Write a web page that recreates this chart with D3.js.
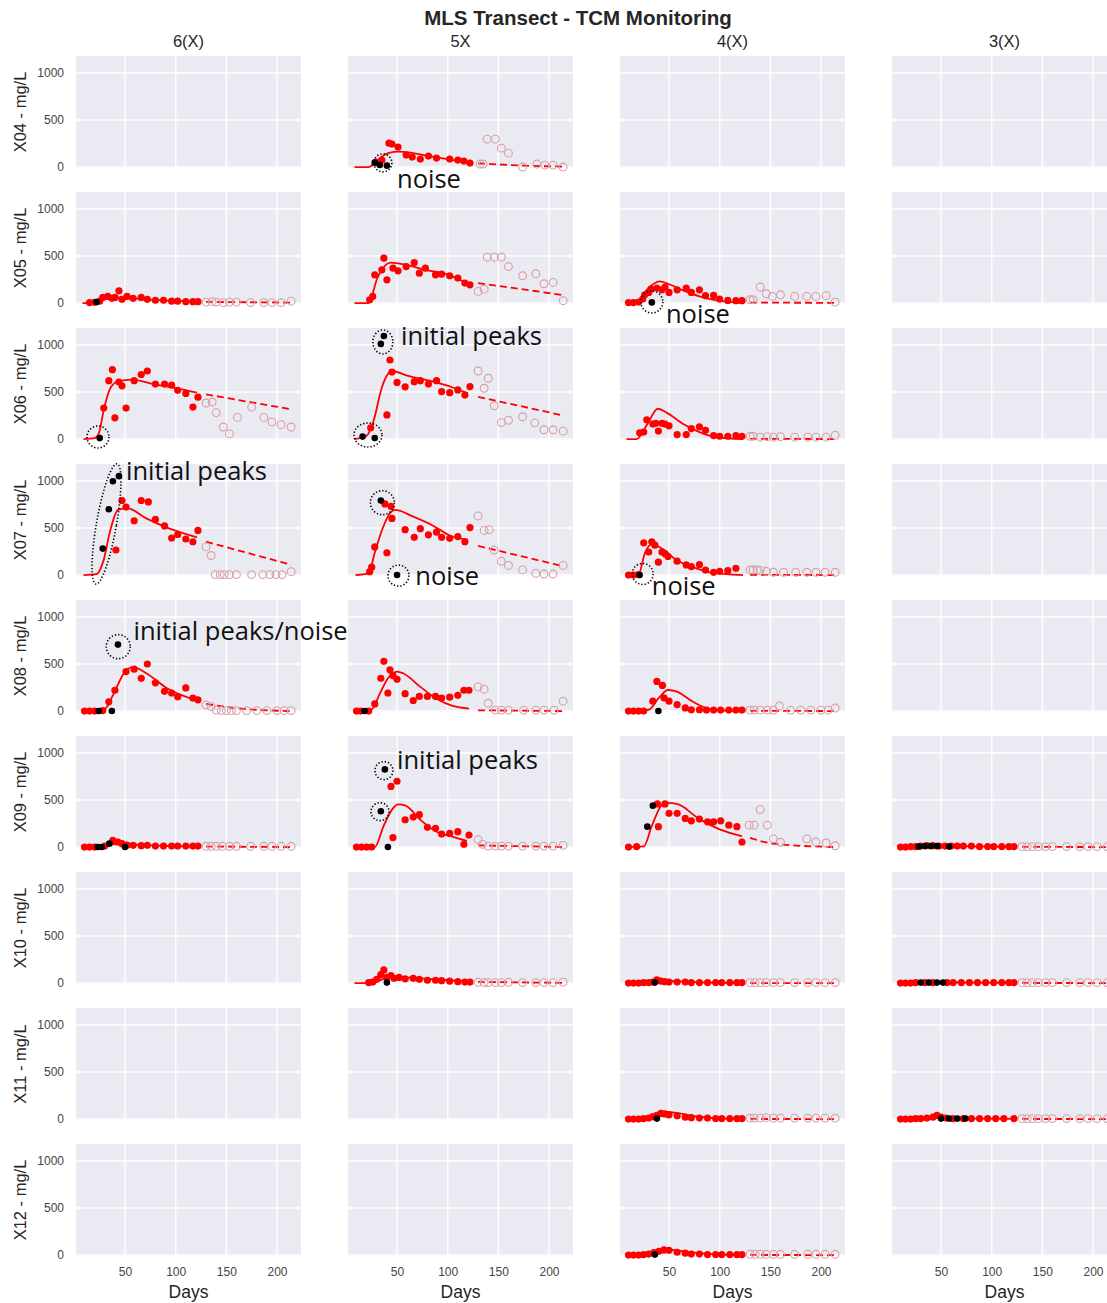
<!DOCTYPE html>
<html><head><meta charset="utf-8">
<script src="https://cdn.jsdelivr.net/npm/d3@7"></script>
<style>body{margin:0;background:#fff}svg{display:block}</style>
</head><body><svg id="c" width="1107" height="1303"></svg>
<script>
// ---------- labels ----------
const chartTitle = "MLS Transect - TCM Monitoring";
const rowNames = ["X04","X05","X06","X07","X08","X09","X10","X11","X12"];
const colNames = ["6(X)","5X","4(X)","3(X)"];
const xTicks = [50,100,150,200];
const yTicks = [0,500,1000];
const xLabel = "Days";

// ---------- data: [day, mg/L] ----------
// X04 - 5X
const X04_5X_red = [[29,53],[35,74],[42,254],[45,244],[51,212],[59,127],[65,106],[73,85],[81,117],[89,95],[102,85],[110,74],[116,64],[122,42]];
const X04_5X_black = [[28,47],[33,22],[40,15]];
const X04_5X_open = [[132,32],[135,32],[139,297],[147,297],[153,201],[160,148],[174,0],[188,32],[196,21],[204,21],[214,0]];
const X04_5X_fit = [[8,0],[22,0],[28,40],[35,110],[42,150],[52,165],[65,150],[80,120],[100,85],[122,45]];
const X04_5X_proj = [[130,40],[150,28],[175,15],[213,5]];
// X05 - 6(X)
const X05_6X_red = [[15,5],[20,8],[25,20],[28,60],[33,70],[37,50],[40,60],[44,130],[47,40],[52,70],[58,50],[66,60],[72,40],[80,30],[88,30],[96,20],[102,20],[110,15],[117,15],[122,15]];
const X05_6X_black = [[22,10]];
const X05_6X_open = [[130,10],[136,15],[140,10],[147,5],[153,10],[160,10],[174,5],[187,5],[195,5],[204,5],[214,20]];
const X05_6X_fit = [[8,0],[20,5],[28,40],[38,60],[50,55],[70,40],[95,25],[122,15]];
const X05_6X_proj = [[130,12],[213,5]];
// X05 - 5X
const X05_5X_red = [[23,35],[26,71],[28,300],[35,353],[37,477],[40,247],[46,371],[51,342],[59,388],[67,431],[72,318],[78,371],[88,300],[94,307],[102,290],[110,265],[117,212],[122,194]];
const X05_5X_black = [];
const X05_5X_open = [[130,124],[136,148],[139,487],[146,487],[153,487],[160,388],[174,290],[187,311],[195,205],[204,219],[214,25]];
const X05_5X_fit = [[8,0],[22,0],[25,71],[30,250],[36,370],[44,430],[59,406],[78,353],[98,311],[122,194]];
const X05_5X_proj = [[130,212],[212,88]];
// X05 - 4(X)
const X05_4X_red = [[10,5],[15,5],[20,10],[24,42],[26,88],[30,113],[32,148],[38,159],[43,141],[46,170],[50,113],[58,141],[67,159],[72,113],[80,141],[86,78],[94,81],[100,42],[108,28],[116,25],[122,25]];
const X05_4X_black = [[33,7]];
const X05_4X_open = [[130,35],[133,35],[140,170],[146,99],[152,71],[160,88],[174,71],[186,71],[195,71],[205,78],[214,10]];
const X05_4X_fit = [[8,0],[18,0],[28,141],[41,230],[50,200],[64,134],[80,71],[97,28],[123,0]];
const X05_4X_proj = [[130,5],[213,2]];
// X06 - 6(X)
const X06_6X_red = [[29,329],[34,620],[37.5,737],[40,226],[44,606],[47,566],[51,329],[59,620],[66,686],[72,723],[80,584],[89,584],[96,573],[102,518],[110,485],[117,340],[122,445]];
const X06_6X_black = [[25,10]];
const X06_6X_open = [[130,383],[136,394],[140,281],[147,128],[153,55],[161,230],[175,340],[187,230],[195,183],[204,153],[214,128]];
const X06_6X_fit = [[9,0],[20,10],[24,55],[29,310],[35,530],[43,613],[57,631],[78,584],[98,547],[121,493]];
const X06_6X_proj = [[130,475],[213,318]];
// X06 - 5X
const X06_5X_red = [[24,120],[43,840],[45,712],[40,256],[50,602],[58,555],[67,610],[73,620],[81,584],[89,620],[94,504],[102,493],[110,522],[117,467],[122,558]];
const X06_5X_black = [[37,1095],[34,1011],[16,26],[28,11]];
const X06_5X_open = [[130,723],[140,646],[136,540],[146,354],[153,175],[160,200],[174,237],[186,172],[195,99],[204,99],[214,84]];
const X06_5X_fit = [[8,0],[20,36],[27,200],[35,548],[45,723],[60,675],[82,620],[105,548],[120,485]];
const X06_5X_proj = [[130,449],[212,255]];
// X06 - 4(X)
const X06_4X_red = [[21,67],[25,74],[28,204],[34,159],[37,167],[39.5,85],[43,167],[46,159],[50,141],[58,48],[67,48],[72,111],[80,130],[86,93],[94,37],[100,30],[108,30],[116,37],[122,30]];
const X06_4X_black = [];
const X06_4X_open = [[130,30],[133,30],[140,20],[147,25],[153,20],[160,25],[174,20],[187,20],[195,20],[205,20],[214,40]];
const X06_4X_fit = [[8,0],[18,0],[28,148],[39,322],[48,278],[64,159],[80,74],[97,18],[123,0]];
const X06_4X_proj = [[130,3],[213,0]];
// X07 - 6(X)
const X07_6X_red = [[41,266],[47,792],[51,723],[59,577],[66,792],[73,777],[80,591],[89,522],[96,394],[102,431],[110,383],[117,354],[122,474]];
const X07_6X_black = [[28,281],[34,700],[38,996],[44,1051]];
const X07_6X_open = [[130,299],[135,208],[139,5],[144,5],[148,5],[153,5],[160,5],[175,5],[186,5],[193,5],[199,5],[205,5],[214,36]];
const X07_6X_fit = [[9,0],[22,11],[29,164],[35,456],[43,693],[52,712],[71,602],[94,493],[121,401]];
const X07_6X_proj = [[130,354],[214,110]];
// X07 - 5X
const X07_5X_red = [[38,756],[44,730],[45,602],[25,84],[23,36],[28,299],[40,237],[58,482],[67,401],[73,493],[81,427],[89,456],[94,401],[102,390],[110,409],[117,354],[122,504]];
const X07_5X_black = [[34,792],[50,0]];
const X07_5X_open = [[130,628],[136,474],[141,482],[146,266],[153,146],[160,102],[174,55],[187,18],[195,11],[204,11],[214,102]];
const X07_5X_fit = [[9,0],[22,18],[28,237],[35,474],[43,657],[48,693],[66,620],[86,522],[102,420],[120,376]];
const X07_5X_proj = [[130,310],[212,99]];
// X07 - 4(X)
const X07_4X_red = [[10,0],[15,0],[20,5],[25,342],[30,245],[33,353],[36,317],[39.5,137],[43,245],[46,227],[49,198],[58,148],[67,108],[72,90],[80,112],[86,54],[94,29],[100,40],[108,47],[116,72]];
const X07_4X_black = [[21,0]];
const X07_4X_open = [[130,54],[133,54],[137,54],[140,50],[146,40],[153,30],[163,30],[175,30],[186,30],[195,30],[204,30],[214,30]];
const X07_4X_fit = [[8,0],[20,11],[26,227],[33,328],[43,281],[58,155],[74,83],[90,29],[123,0]];
const X07_4X_proj = [[130,3],[213,0]];
// X08 - 6(X)
const X08_6X_red = [[10,0],[15,0],[20,0],[28,5],[34,98],[40,221],[51,420],[59,445],[66,348],[72,500],[80,300],[89,210],[96,192],[102,152],[110,246],[117,138],[122,119]];
const X08_6X_black = [[43,706],[24,0],[37,0]];
const X08_6X_open = [[130,65],[135,47],[140,10],[145,5],[150,5],[155,5],[160,5],[170,5],[180,5],[190,5],[200,5],[207,5],[214,5]];
const X08_6X_fit = [[9,0],[30,22],[38,167],[50,420],[58,467],[71,402],[91,246],[121,112]];
const X08_6X_proj = [[130,76],[160,30],[213,0]];
// X08 - 5X
const X08_5X_red = [[10,0],[14,0],[22,0],[28,76],[34,348],[37,528],[41,192],[43,438],[46,377],[50,337],[58,185],[66,112],[72,156],[80,156],[88,156],[94,138],[102,148],[110,167],[116,221],[121,221]];
const X08_5X_black = [[18,0]];
const X08_5X_open = [[130,257],[136,232],[140,83],[147,10],[153,10],[160,10],[175,10],[187,10],[195,10],[205,10],[214,105]];
const X08_5X_fit = [[9,0],[25,18],[33,185],[41,348],[50,420],[56,402],[73,257],[89,130],[105,54],[121,25]];
const X08_5X_proj = [[130,8],[213,0]];
// X08 - 4(X)
const X08_4X_red = [[10,0],[15,0],[20,0],[25,0],[34,105],[38,315],[43.5,272],[45,141],[50,105],[58,69],[66,33],[72,14],[80,14],[87,10],[94,10],[101,10],[109,10],[116,10],[122,10]];
const X08_4X_black = [[39.5,0]];
const X08_4X_open = [[130,10],[134,10],[140,10],[147,10],[153,10],[159,54],[170,10],[180,10],[190,10],[200,10],[207,10],[214,32]];
const X08_4X_fit = [[8,0],[30,14],[39.5,134],[49,224],[58,206],[71,116],[84,43],[100,7],[123,0]];
const X08_4X_proj = [[130,3],[213,0]];
// X09 - 6(X)
const X09_6X_red = [[10,0],[15,0],[20,0],[30,10],[38,72],[43,54],[47,36],[52,20],[58,18],[66,15],[72,18],[80,10],[88,10],[96,10],[102,10],[110,10],[117,10],[122,10]];
const X09_6X_black = [[34.5,36],[23,0],[27,0],[50,0]];
const X09_6X_open = [[130,8],[135,8],[140,8],[146,8],[153,8],[160,8],[174,8],[187,8],[195,8],[204,8],[214,8]];
const X09_6X_fit = [[9,0],[25,0],[35,25],[45,35],[60,25],[80,15],[100,10],[122,5]];
const X09_6X_proj = [[130,5],[213,0]];
// X09 - 5X
const X09_5X_red = [[10,0],[15,0],[20,0],[25,0],[44,644],[50,699],[46,101],[58,290],[66,319],[72,344],[80,210],[88,199],[94,138],[102,145],[110,163],[116,29],[121,127]];
const X09_5X_black = [[38,825],[34,380],[41,0]];
const X09_5X_open = [[130,80],[134.5,29],[140,10],[147,10],[153,10],[160,10],[174,10],[187,10],[195,10],[204,10],[214,18]];
const X09_5X_fit = [[9,0],[28,0],[36.5,217],[45,398],[51,453],[58,442],[73,290],[89,163],[105,109],[119,65]];
const X09_5X_proj = [[130,18],[213,0]];
// X09 - 4(X)
const X09_4X_red = [[10,0],[18,5],[38.5,458],[46,458],[39.5,217],[50,358],[58,358],[66,304],[72,279],[80,297],[88,268],[94,268],[101,279],[109,232],[117,217],[122,54]];
const X09_4X_black = [[34,440],[28.6,217]];
const X09_4X_open = [[129,232],[134,232],[140,398],[147,232],[153,87],[160,51],[186,87],[195,54],[205,43],[214,14]];
const X09_4X_fit = [[8,0],[25,7],[33,224],[43,448],[48,470],[58,458],[80,297],[100,188],[122,116]];
const X09_4X_proj = [[130,98],[153,36],[214,0]];
// X09 - 3(X)
const X09_3X_red = [[10,0],[15,0],[20,5],[25,5],[30,10],[36,15],[42,15],[48,10],[54,10],[60,10],[66,10],[72,10],[80,10],[88,5],[96,5],[102,5],[110,5],[117,5],[122,5]];
const X09_3X_black = [[28,5],[34,10],[40,10],[46,10],[58,5]];
const X09_3X_open = [[130,5],[135,5],[140,5],[146,5],[153,5],[160,5],[174,5],[187,5],[195,5],[204,5],[214,5]];
const X09_3X_fit = [[9,0],[25,2],[40,15],[55,12],[80,8],[122,3]];
const X09_3X_proj = [[130,2],[213,0]];
// X10 - 5X
const X10_5X_red = [[22,5],[26,10],[30,40],[34,90],[37,140],[40,60],[44,80],[47,50],[52,60],[58,45],[66,50],[72,40],[80,30],[88,30],[94,25],[102,20],[110,15],[117,10],[122,10]];
const X10_5X_black = [[40,5]];
const X10_5X_open = [[130,8],[136,5],[140,5],[147,5],[153,5],[160,8],[174,5],[187,5],[195,5],[204,5],[214,10]];
const X10_5X_fit = [[8,0],[25,2],[33,30],[40,55],[50,65],[60,60],[80,45],[100,30],[122,15]];
const X10_5X_proj = [[130,12],[213,2]];
// X10 - 4(X)
const X10_4X_red = [[10,0],[15,0],[20,0],[25,5],[30,5],[34,10],[38,35],[42,20],[46,15],[50,10],[58,10],[66,10],[72,5],[80,5],[88,5],[96,5],[102,5],[110,5],[117,5],[122,5]];
const X10_4X_black = [[36,5]];
const X10_4X_open = [[130,5],[135,5],[140,5],[146,5],[153,5],[160,5],[174,5],[187,5],[195,5],[204,5],[214,5]];
const X10_4X_fit = [[8,0],[25,2],[38,15],[48,22],[60,18],[80,8],[100,3],[122,0]];
const X10_4X_proj = [[130,0],[213,0]];
// X10 - 3(X)
const X10_3X_red = [[10,0],[15,0],[20,0],[25,5],[34,5],[42,5],[56,5],[62,5],[70,5],[78,5],[86,5],[94,5],[102,5],[110,5],[117,5],[122,5]];
const X10_3X_black = [[30,5],[38,5],[46,5],[52,5]];
const X10_3X_open = [[130,5],[135,5],[140,5],[146,5],[153,5],[160,5],[174,5],[187,5],[195,5],[204,5],[214,5]];
const X10_3X_fit = [[9,0],[30,3],[50,8],[80,4],[122,1]];
const X10_3X_proj = [[130,1],[213,0]];
// X11 - 4(X)
const X11_4X_red = [[10,0],[15,0],[20,0],[25,5],[30,10],[34,25],[38,40],[42,60],[46,55],[50,45],[58,35],[66,20],[72,15],[80,10],[88,10],[96,5],[102,5],[110,5],[117,5],[122,5]];
const X11_4X_black = [[38,5]];
const X11_4X_open = [[130,10],[134,10],[140,10],[146,15],[153,10],[160,10],[174,10],[187,10],[195,10],[204,10],[214,10]];
const X11_4X_fit = [[8,0],[25,2],[35,30],[48,75],[58,65],[75,30],[95,10],[122,2]];
const X11_4X_proj = [[130,1],[213,0]];
// X11 - 3(X)
const X11_3X_red = [[10,0],[15,0],[20,0],[25,5],[30,5],[36,10],[42,20],[46,40],[50,20],[55,10],[62,5],[72,5],[80,5],[88,5],[96,5],[104,5],[112,5],[122,5]];
const X11_3X_black = [[50,5],[58,5],[66,5],[74,5]];
const X11_3X_open = [[130,5],[135,5],[140,5],[146,5],[153,5],[160,5],[174,5],[187,5],[195,5],[204,5],[214,5]];
const X11_3X_fit = [[9,0],[30,3],[48,12],[70,8],[100,4],[122,2]];
const X11_3X_proj = [[130,1],[213,0]];
// X12 - 4(X)
const X12_4X_red = [[10,0],[15,0],[20,0],[25,5],[30,10],[35,25],[40,40],[45,55],[50,50],[58,30],[66,20],[72,10],[80,10],[88,5],[96,5],[102,5],[110,5],[117,5],[122,5]];
const X12_4X_black = [[36,5]];
const X12_4X_open = [[130,8],[135,8],[140,8],[146,8],[153,8],[160,8],[174,8],[187,8],[195,8],[204,8],[214,8]];
const X12_4X_fit = [[8,0],[25,2],[35,25],[48,60],[58,50],[75,25],[95,8],[122,2]];
const X12_4X_proj = [[130,1],[213,0]];

const panels = [
  {row:"X04",col:"5X",red:X04_5X_red,black:X04_5X_black,open:X04_5X_open,fit:X04_5X_fit,proj:X04_5X_proj},
  {row:"X05",col:"6(X)",red:X05_6X_red,black:X05_6X_black,open:X05_6X_open,fit:X05_6X_fit,proj:X05_6X_proj},
  {row:"X05",col:"5X",red:X05_5X_red,black:X05_5X_black,open:X05_5X_open,fit:X05_5X_fit,proj:X05_5X_proj},
  {row:"X05",col:"4(X)",red:X05_4X_red,black:X05_4X_black,open:X05_4X_open,fit:X05_4X_fit,proj:X05_4X_proj},
  {row:"X06",col:"6(X)",red:X06_6X_red,black:X06_6X_black,open:X06_6X_open,fit:X06_6X_fit,proj:X06_6X_proj},
  {row:"X06",col:"5X",red:X06_5X_red,black:X06_5X_black,open:X06_5X_open,fit:X06_5X_fit,proj:X06_5X_proj},
  {row:"X06",col:"4(X)",red:X06_4X_red,black:X06_4X_black,open:X06_4X_open,fit:X06_4X_fit,proj:X06_4X_proj},
  {row:"X07",col:"6(X)",red:X07_6X_red,black:X07_6X_black,open:X07_6X_open,fit:X07_6X_fit,proj:X07_6X_proj},
  {row:"X07",col:"5X",red:X07_5X_red,black:X07_5X_black,open:X07_5X_open,fit:X07_5X_fit,proj:X07_5X_proj},
  {row:"X07",col:"4(X)",red:X07_4X_red,black:X07_4X_black,open:X07_4X_open,fit:X07_4X_fit,proj:X07_4X_proj},
  {row:"X08",col:"6(X)",red:X08_6X_red,black:X08_6X_black,open:X08_6X_open,fit:X08_6X_fit,proj:X08_6X_proj},
  {row:"X08",col:"5X",red:X08_5X_red,black:X08_5X_black,open:X08_5X_open,fit:X08_5X_fit,proj:X08_5X_proj},
  {row:"X08",col:"4(X)",red:X08_4X_red,black:X08_4X_black,open:X08_4X_open,fit:X08_4X_fit,proj:X08_4X_proj},
  {row:"X09",col:"6(X)",red:X09_6X_red,black:X09_6X_black,open:X09_6X_open,fit:X09_6X_fit,proj:X09_6X_proj},
  {row:"X09",col:"5X",red:X09_5X_red,black:X09_5X_black,open:X09_5X_open,fit:X09_5X_fit,proj:X09_5X_proj},
  {row:"X09",col:"4(X)",red:X09_4X_red,black:X09_4X_black,open:X09_4X_open,fit:X09_4X_fit,proj:X09_4X_proj},
  {row:"X09",col:"3(X)",red:X09_3X_red,black:X09_3X_black,open:X09_3X_open,fit:X09_3X_fit,proj:X09_3X_proj},
  {row:"X10",col:"5X",red:X10_5X_red,black:X10_5X_black,open:X10_5X_open,fit:X10_5X_fit,proj:X10_5X_proj},
  {row:"X10",col:"4(X)",red:X10_4X_red,black:X10_4X_black,open:X10_4X_open,fit:X10_4X_fit,proj:X10_4X_proj},
  {row:"X10",col:"3(X)",red:X10_3X_red,black:X10_3X_black,open:X10_3X_open,fit:X10_3X_fit,proj:X10_3X_proj},
  {row:"X11",col:"4(X)",red:X11_4X_red,black:X11_4X_black,open:X11_4X_open,fit:X11_4X_fit,proj:X11_4X_proj},
  {row:"X11",col:"3(X)",red:X11_3X_red,black:X11_3X_black,open:X11_3X_open,fit:X11_3X_fit,proj:X11_3X_proj},
  {row:"X12",col:"4(X)",red:X12_4X_red,black:X12_4X_black,open:X12_4X_open,fit:X12_4X_fit,proj:X12_4X_proj}
];

// annotations (data coordinates of the panel they sit on)
const noteRings = [
  ["X04","5X",36,44,9,9,0],
  ["X05","4(X)",33,12,11,11,0],
  ["X06","6(X)",23.3,22,11,11,0],
  ["X06","5X",36,1032,10,12,0],
  ["X06","5X",21.3,43,14,12,0],
  ["X07","6(X)",31.7,543,10,61,10],
  ["X07","5X",35.5,769,12,12,0],
  ["X07","5X",51.4,-6,10.5,10.5,0],
  ["X07","4(X)",24,12,10.5,10.5,0],
  ["X08","6(X)",43.3,684,12,12,0],
  ["X09","5X",37.1,812,9,9,0],
  ["X09","5X",33.2,376,9,9,0]
];
const noteTexts = [
  ["X04","5X","noise",50,-116],
  ["X05","4(X)","noise",47,-106],
  ["X06","5X","initial peaks",54,1107],
  ["X07","6(X)","initial peaks",51,1117],
  ["X07","5X","noise",68,0],
  ["X07","4(X)","noise",33,-106],
  ["X08","6(X)","initial peaks/noise",58.4,863],
  ["X09","5X","initial peaks",50,940]
];

// ---------- drawing ----------
const svg = d3.select("#c");
const panelW = 225, panelH = 112;
const colLeft = c => 76 + 272 * colNames.indexOf(c);
const rowTop = r => 56 + 136 * rowNames.indexOf(r);
const x = d3.scaleLinear().domain([1.6, 223.7]).range([0, panelW]);
const y = d3.scaleLinear().domain([-10, 1180]).range([panelH, 0]);
const FONT = "'Liberation Sans', Arial, sans-serif";
const RED = "#ff0000", OPEN = "#d99ea6";

svg.append("rect").attr("width",1107).attr("height",1303).attr("fill","#fff");

svg.append("text").attr("x",578).attr("y",25).attr("text-anchor","middle")
  .attr("font-family",FONT).attr("font-weight","bold").attr("font-size",20.5).attr("fill","#262626").text(chartTitle);

colNames.forEach(c => {
  svg.append("text").attr("x",colLeft(c)+panelW/2).attr("y",47).attr("text-anchor","middle")
    .attr("font-family",FONT).attr("font-size",16.5).attr("fill","#262626").text(c);
});

rowNames.forEach((r,ri) => {
  const cy = rowTop(r) + panelH/2;
  svg.append("text").attr("transform",`translate(26,${cy}) rotate(-90)`).attr("text-anchor","middle")
    .attr("font-family",FONT).attr("font-size",16.5).attr("fill","#262626").text(r + " - mg/L");
  colNames.forEach((c,ci) => {
    const g = svg.append("g").attr("transform",`translate(${colLeft(c)},${rowTop(r)})`);
    g.append("rect").attr("width",panelW).attr("height",panelH).attr("fill","#eaeaf2");
    g.selectAll(".vg").data(xTicks).join("line").attr("x1",d=>x(d)).attr("x2",d=>x(d))
      .attr("y1",0).attr("y2",panelH).attr("stroke","#fff").attr("stroke-width",1.4);
    g.selectAll(".hg").data(yTicks).join("line").attr("y1",d=>y(d)).attr("y2",d=>y(d))
      .attr("x1",0).attr("x2",panelW).attr("stroke","#fff").attr("stroke-width",1.4);
    if (ci === 0) {
      const ax = g.append("g").call(d3.axisLeft(y).tickValues(yTicks).tickFormat(d3.format("d")).tickSize(0).tickPadding(12));
      ax.select(".domain").remove();
      ax.selectAll("text").attr("font-family",FONT).attr("font-size",12).attr("fill","#444");
    }
    if (ri === rowNames.length - 1) {
      const ax = g.append("g").attr("transform",`translate(0,${panelH})`)
        .call(d3.axisBottom(x).tickValues(xTicks).tickFormat(d3.format("d")).tickSize(0).tickPadding(11));
      ax.select(".domain").remove();
      ax.selectAll("text").attr("font-family",FONT).attr("font-size",12).attr("fill","#444");
      g.append("text").attr("x",panelW/2).attr("y",panelH+42).attr("text-anchor","middle")
        .attr("font-family",FONT).attr("font-size",17.5).attr("fill","#262626").text(xLabel);
    }
  });
});

const line = d3.line().x(d=>x(d[0])).y(d=>y(d[1])).curve(d3.curveMonotoneX);
panels.forEach(p => {
  const g = svg.append("g").attr("transform",`translate(${colLeft(p.col)},${rowTop(p.row)})`);
  g.append("path").datum(p.fit).attr("d",line).attr("fill","none").attr("stroke",RED).attr("stroke-width",1.8);
  g.append("path").datum(p.proj).attr("d",line).attr("fill","none").attr("stroke",RED).attr("stroke-width",1.8)
    .attr("stroke-dasharray","7,4");
  g.selectAll(".o").data(p.open).join("circle").attr("cx",d=>x(d[0])).attr("cy",d=>y(d[1])).attr("r",3.9)
    .attr("fill","none").attr("stroke",OPEN).attr("stroke-width",1.1);
  g.selectAll(".r").data(p.red).join("circle").attr("cx",d=>x(d[0])).attr("cy",d=>y(d[1])).attr("r",3.6)
    .attr("fill",RED);
  g.selectAll(".b").data(p.black).join("circle").attr("cx",d=>x(d[0])).attr("cy",d=>y(d[1])).attr("r",3.3)
    .attr("fill","#000");
});

noteRings.forEach(n => {
  const cx = colLeft(n[1]) + x(n[2]), cy = rowTop(n[0]) + y(n[3]);
  svg.append("ellipse").attr("transform",`translate(${cx},${cy}) rotate(${n[6]})`)
    .attr("rx",n[4]).attr("ry",n[5]).attr("fill","none").attr("stroke","#000")
    .attr("stroke-width",1.6).attr("stroke-dasharray","1.3,2");
});
noteTexts.forEach(n => {
  svg.append("text").attr("x",colLeft(n[1]) + x(n[3])).attr("y",rowTop(n[0]) + y(n[4]))
    .attr("dominant-baseline","central").attr("font-family","'Open Sans', 'Noto Sans', sans-serif")
    .attr("font-size",25.5).attr("fill","#111").text(n[2]);
});
</script></body></html>
